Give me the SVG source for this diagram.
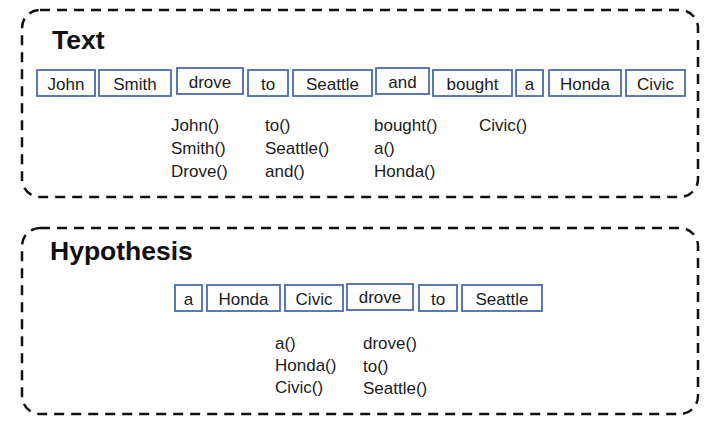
<svg xmlns="http://www.w3.org/2000/svg" width="715" height="426" viewBox="0 0 715 426">
<style>
.frame{fill:none;stroke:#111;stroke-width:2.5;stroke-dasharray:10 7}
.w rect{fill:#fff;stroke:#4a6cad;stroke-width:1.8}
.w text{font-family:"Liberation Sans",Arial,sans-serif;font-size:17px;fill:#1a1a1a;text-anchor:middle}
.lbl{font-family:"Liberation Sans",Arial,sans-serif;font-size:17px;fill:#1a1a1a}
.title{font-family:"Liberation Sans",Arial,sans-serif;font-size:26.5px;font-weight:bold;fill:#111}
</style>
<rect width="715" height="426" fill="#fff"/>
<g id="text-panel">
<rect class="frame" x="22" y="10" width="676" height="187" rx="18"/>
<text class="title" x="52" y="49">Text</text>
</g>
<g id="hyp-panel">
<rect class="frame" x="22" y="228" width="676" height="186" rx="18"/>
<text class="title" x="50" y="260">Hypothesis</text>
</g>
<g id="t-john" class="w"><rect x="37" y="70" width="58" height="26"/><text x="66" y="90">John</text></g>
<g id="t-smith" class="w"><rect x="99" y="70" width="72" height="26"/><text x="135" y="90">Smith</text></g>
<g id="t-drove" class="w"><rect x="177" y="68" width="66" height="26"/><text x="210" y="88">drove</text></g>
<g id="t-to" class="w"><rect x="248" y="70" width="40" height="26"/><text x="268" y="90">to</text></g>
<g id="t-seattle" class="w"><rect x="293" y="70" width="79" height="26"/><text x="332.5" y="90">Seattle</text></g>
<g id="t-and" class="w"><rect x="376" y="68" width="53" height="26"/><text x="402.5" y="88">and</text></g>
<g id="t-bought" class="w"><rect x="433" y="70" width="79" height="26"/><text x="472.5" y="90">bought</text></g>
<g id="t-a" class="w"><rect x="516" y="70" width="27" height="26"/><text x="529.5" y="90">a</text></g>
<g id="t-honda" class="w"><rect x="549" y="70" width="72" height="26"/><text x="585" y="90">Honda</text></g>
<g id="t-civic" class="w"><rect x="626" y="70" width="59" height="26"/><text x="655.5" y="90">Civic</text></g>
<g id="t-labels">
<text class="lbl" x="171" y="131">John()</text>
<text class="lbl" x="171" y="154">Smith()</text>
<text class="lbl" x="171" y="177">Drove()</text>
<text class="lbl" x="265" y="131">to()</text>
<text class="lbl" x="265" y="154">Seattle()</text>
<text class="lbl" x="265" y="177">and()</text>
<text class="lbl" x="374" y="131">bought()</text>
<text class="lbl" x="374" y="154">a()</text>
<text class="lbl" x="374" y="177">Honda()</text>
<text class="lbl" x="479" y="131">Civic()</text>
</g>
<g id="h-a" class="w"><rect x="175" y="285" width="27" height="26"/><text x="188.5" y="305">a</text></g>
<g id="h-honda" class="w"><rect x="207" y="285" width="73" height="26"/><text x="243.5" y="305">Honda</text></g>
<g id="h-civic" class="w"><rect x="285" y="285" width="58" height="26"/><text x="314" y="305">Civic</text></g>
<g id="h-drove" class="w"><rect x="347" y="284" width="66" height="26"/><text x="380" y="303">drove</text></g>
<g id="h-to" class="w"><rect x="419" y="285" width="38" height="26"/><text x="438" y="305">to</text></g>
<g id="h-seattle" class="w"><rect x="462" y="285" width="80" height="26"/><text x="502" y="305">Seattle</text></g>
<g id="h-labels">
<text class="lbl" x="275" y="349">a()</text>
<text class="lbl" x="275" y="371">Honda()</text>
<text class="lbl" x="275" y="393">Civic()</text>
<text class="lbl" x="363" y="349">drove()</text>
<text class="lbl" x="363" y="372">to()</text>
<text class="lbl" x="363" y="394">Seattle()</text>
</g>
<g id="connectors"/>
</svg>
